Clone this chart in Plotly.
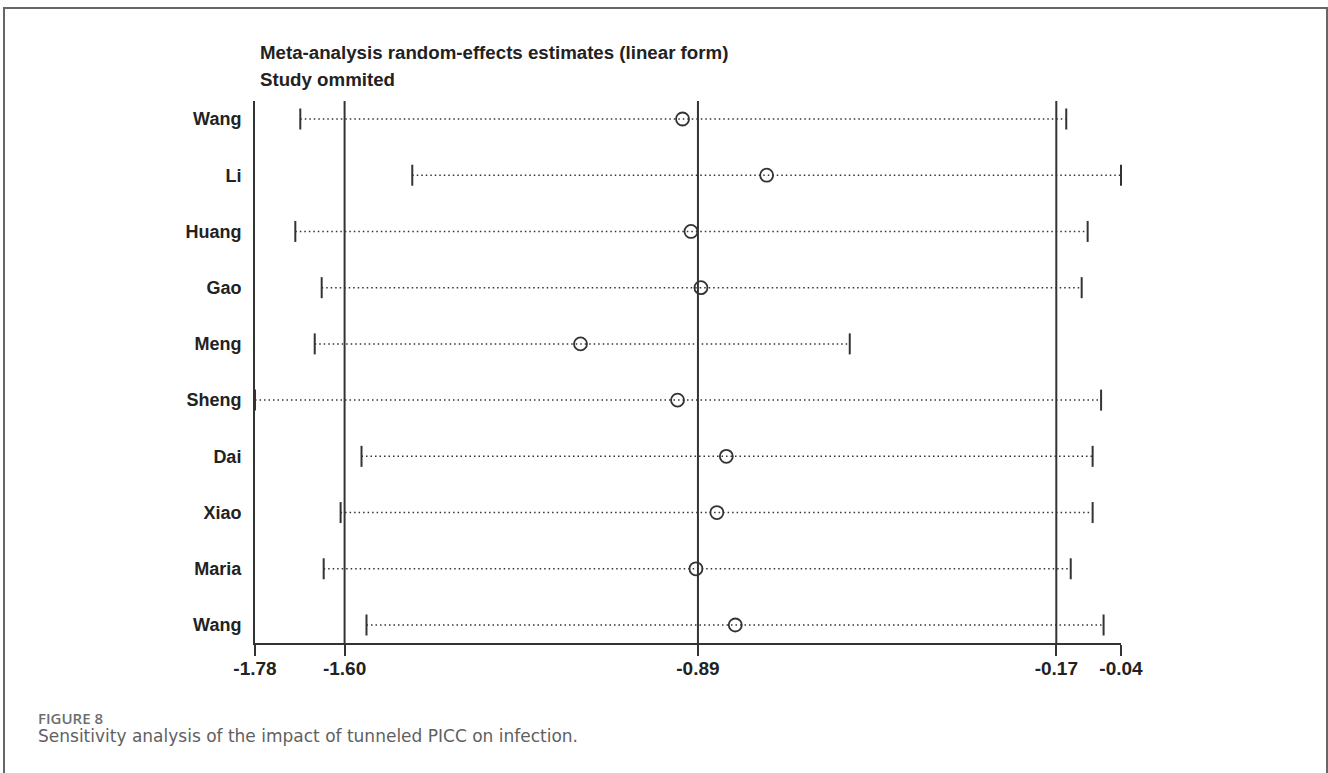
import plotly.graph_objects as go

# ---- data ----
studies = ["Wang", "Li", "Huang", "Gao", "Meng", "Sheng", "Dai", "Xiao", "Maria", "Wang"]
estimate = [-0.921, -0.752, -0.904, -0.884, -1.126, -0.931, -0.833, -0.852, -0.894, -0.815]
lower = [-1.689, -1.464, -1.699, -1.646, -1.660, -1.780, -1.566, -1.608, -1.642, -1.556]
upper = [-0.150, -0.040, -0.107, -0.119, -0.585, -0.080, -0.097, -0.097, -0.141, -0.075]
ref_lines = [-1.60, -0.89, -0.17]
x_ticks = [-1.78, -1.60, -0.89, -0.17, -0.04]
x_tick_labels = ["-1.78", "-1.60", "-0.89", "-0.17", "-0.04"]

W, H = 1328, 773
ML, MR, MT, MB = 255, 207, 101, 130
PW, PH = W - ML - MR, H - MT - MB

def px2xp(px):
    return (px - ML) / PW

def py2yp(py):
    return (H - MB - py) / PH

dark = "#333333"
font_fam = "Liberation Sans, Arial, Helvetica, sans-serif"

rows = list(range(1, len(studies) + 1))

fig = go.Figure()

# dotted CI lines
for r, lo, hi in zip(rows, lower, upper):
    fig.add_trace(go.Scatter(
        x=[lo, hi], y=[r, r], mode="lines",
        line=dict(color=dark, width=1.5, dash="1.5px,3px"),
        hoverinfo="skip", showlegend=False, cliponaxis=False))

# caps
fig.add_trace(go.Scatter(
    x=lower + upper, y=rows + rows, mode="markers",
    marker=dict(symbol="line-ns", size=15, line=dict(color=dark, width=2)),
    showlegend=False, cliponaxis=False))

# point estimates
fig.add_trace(go.Scatter(
    x=estimate, y=rows, mode="markers",
    marker=dict(symbol="circle-open", size=13, color=dark, line=dict(color=dark, width=1.8)),
    showlegend=False, cliponaxis=False))

for v in ref_lines:
    fig.add_vline(x=v, line=dict(color=dark, width=2))

fig.update_layout(
    width=W, height=H,
    margin=dict(l=ML, r=MR, t=MT, b=MB, pad=0),
    paper_bgcolor="white", plot_bgcolor="white",
    showlegend=False,
    xaxis=dict(
        range=[-1.78, -0.04], showgrid=False, zeroline=False,
        showline=True, linecolor=dark, linewidth=2,
        ticks="outside", ticklen=11, tickwidth=2, tickcolor=dark,
        tickvals=x_ticks, ticktext=x_tick_labels,
        ticklabelstandoff=-4,
        tickfont=dict(family=font_fam, size=19, color="#222222", weight="bold"),
    ),
    yaxis=dict(
        range=[len(studies) + 0.32, 0.68], showgrid=False, zeroline=False,
        showline=True, linecolor=dark, linewidth=2,
        ticks="", tickvals=rows, ticktext=studies,
        ticklabelstandoff=8,
        tickfont=dict(family=font_fam, size=18, color="#222222", weight="bold"),
    ),
)

# title lines
fig.add_annotation(x=px2xp(258), y=py2yp(52), xref="paper", yref="paper",
                   text="Meta-analysis random-effects estimates (linear form)",
                   showarrow=False, xanchor="left", yanchor="middle",
                   font=dict(family=font_fam, size=18.7, color="#222222", weight="bold"))
fig.add_annotation(x=px2xp(258), y=py2yp(80), xref="paper", yref="paper",
                   text="Study ommited",
                   showarrow=False, xanchor="left", yanchor="middle",
                   font=dict(family=font_fam, size=18.7, color="#222222", weight="bold"))

# caption
fig.add_annotation(x=px2xp(36), y=py2yp(718), xref="paper", yref="paper",
                   text="FIGURE 8", showarrow=False, xanchor="left", yanchor="middle",
                   font=dict(family="Open Sans, Lato, sans-serif", size=15, color="#6d6e70", weight=600))
fig.add_annotation(x=px2xp(36), y=py2yp(736), xref="paper", yref="paper",
                   text="Sensitivity analysis of the impact of tunneled PICC on infection.",
                   showarrow=False, xanchor="left", yanchor="middle",
                   font=dict(family="DejaVu Sans, Open Sans, sans-serif", size=17, color="#5f6062"))

# outer frame
fig.add_shape(type="rect", xref="paper", yref="paper",
              x0=px2xp(4), x1=px2xp(1327), y0=py2yp(900), y1=py2yp(8),
              line=dict(color="#666666", width=2), fillcolor="rgba(0,0,0,0)", layer="below")

fig.write_html("out.html")
